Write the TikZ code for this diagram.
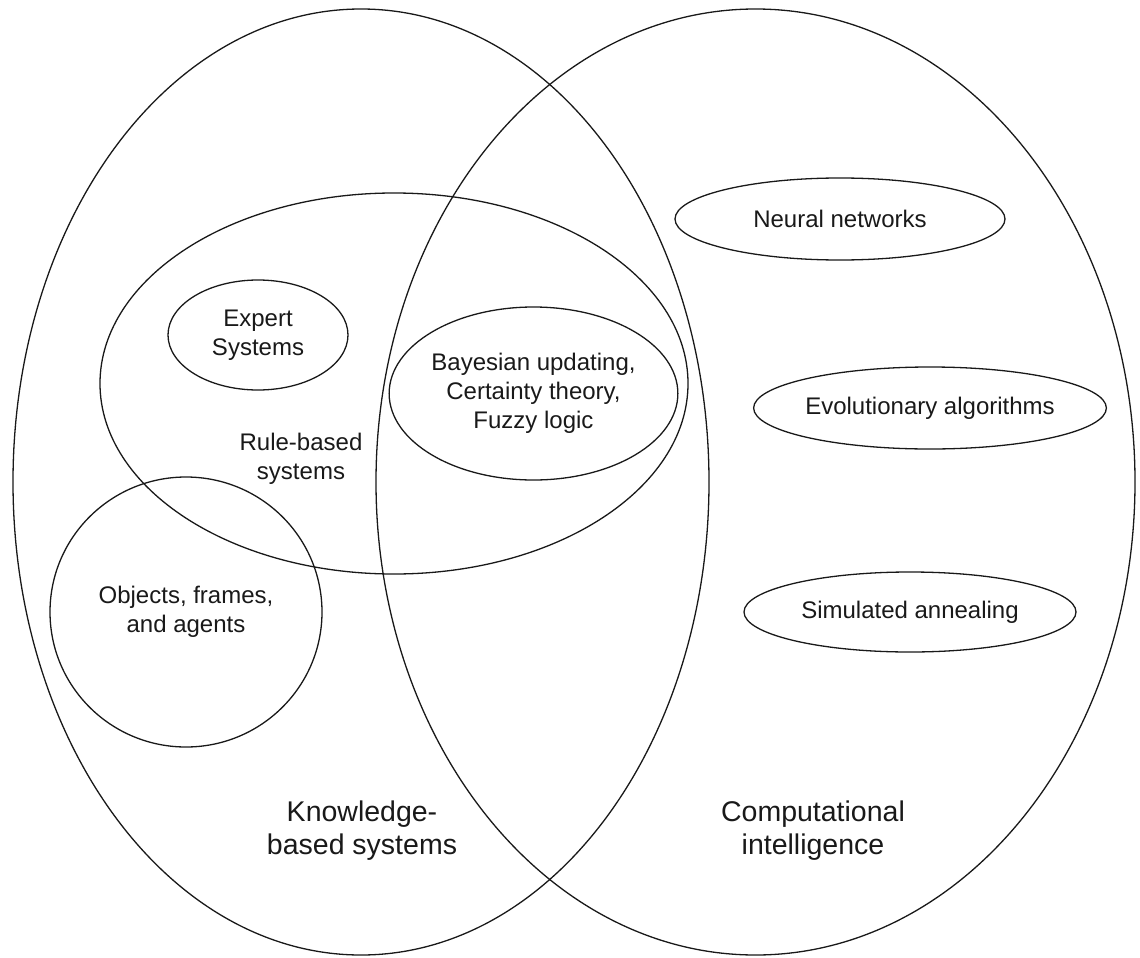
\documentclass[tikz,border=0pt]{standalone}
\usepackage{fontspec}
\setmainfont{Liberation Sans}
\usetikzlibrary{shapes.geometric}
\begin{document}
\begin{tikzpicture}[x=1pt,y=-1pt,
  oval/.style={draw=black!90, line width=1.3pt, ellipse, inner sep=0pt},
  small/.style={font=\fontsize{24}{29}\selectfont, align=center, text=black!90},
  big/.style={font=\fontsize{28.5}{33}\selectfont, align=center, text=black!90}]
\useasboundingbox (0,0) rectangle (1140,958);
% large sets
\node[oval, minimum width=696pt, minimum height=946pt] (kbs) at (361,482) {};
\node[oval, minimum width=759pt, minimum height=946pt] (ci) at (755.5,482) {};
% rule-based systems
\node[oval, minimum width=588pt, minimum height=381pt] (rbs) at (394,383.5) {};
\node[small] (rbslabel) at (301,459) {Rule-based\\systems};
% inner sets
\node[oval, small, minimum width=180pt, minimum height=110pt] (expert) at (258,335) {Expert\\Systems};
\node[oval, small, minimum width=285pt, minimum height=173pt] (bayes) at (533.5,393.5) {Bayesian updating,\\Certainty theory,\\Fuzzy logic};
\node[oval, small, minimum width=272pt, minimum height=270pt] (objects) at (186,612) {Objects, frames,\\and agents};
% computational intelligence members
\node[oval, small, minimum width=330pt, minimum height=82pt] (neural) at (840,219) {Neural networks};
\node[oval, small, minimum width=330pt, minimum height=82pt] (evo) at (930,408) {Evolutionary algorithms};
\node[oval, small, minimum width=332pt, minimum height=80pt] (sim) at (910,612) {Simulated annealing};
% set labels
\node[big] (kbslabel) at (362,831) {Knowledge-\\based systems};
\node[big] (cilabel) at (813,831) {Computational\\intelligence};
\end{tikzpicture}
\end{document}
